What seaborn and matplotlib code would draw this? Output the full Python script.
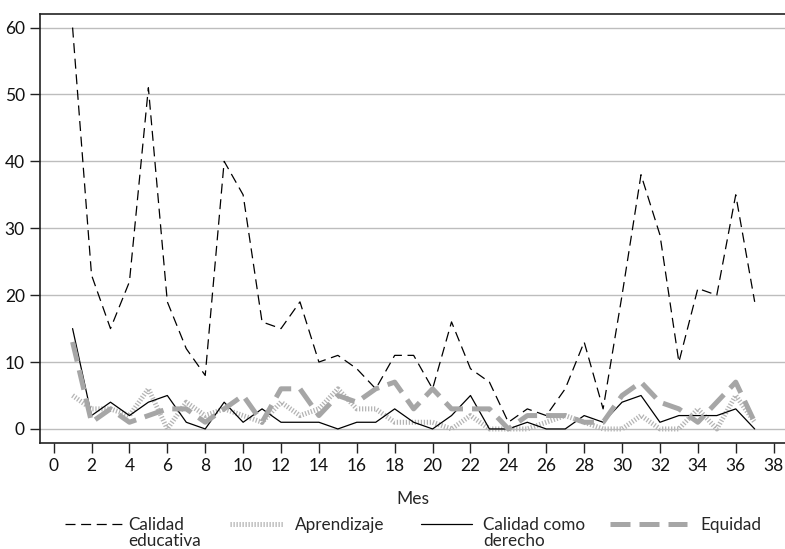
import matplotlib
matplotlib.use("Agg")
import matplotlib.pyplot as plt
import seaborn as sns
import pandas as pd
import numpy as np

meses = list(range(1, 38))
calidad_educativa = [60, 23, 15, 22, 51, 19, 12, 8, 40, 35, 16, 15, 19, 10, 11, 9, 6, 11, 11, 6,
                     16, 9, 7, 1, 3, 2, 6, 13, 3, 20, 38, 29, 10, 21, 20, 35, 19]
aprendizaje = [5, 3, 3, 2, 6, 0, 4, 2, 3, 2, 1, 4, 2, 3, 6, 3, 3, 1, 1, 1,
               0, 2, 0, 0, 0, 1, 2, 1, 0, 0, 2, 0, 0, 3, 0, 5, 1]
calidad_derecho = [15, 2, 4, 2, 4, 5, 1, 0, 4, 1, 3, 1, 1, 1, 0, 1, 1, 3, 1, 0,
                   2, 5, 0, 0, 1, 0, 0, 2, 1, 4, 5, 1, 2, 2, 2, 3, 0]
equidad = [13, 1, 3, 1, 2, 3, 3, 1, 3, 5, 1, 6, 6, 2, 5, 4, 6, 7, 3, 6,
           3, 3, 3, 0, 2, 2, 2, 1, 1, 5, 7, 4, 3, 1, 4, 7, 1]

labels = ["Calidad\neducativa", "Aprendizaje", "Calidad como\nderecho", "Equidad"]
x_ticks = list(range(0, 39, 2))
y_ticks = list(range(0, 61, 10))

sns.set_theme(style="white")
plt.rcParams['font.family'] = ['Lato', 'DejaVu Sans']

fig = plt.figure(figsize=(7.85, 5.49), dpi=100)
ax = fig.add_axes([40/785, 106/549, 1 - 40/785, (443 - 13.5)/549])

styles = [
    dict(color="black", linewidth=0.9, linestyle=(0, (8, 4.5))),
    dict(color="#b4b4b4", linewidth=3.6, linestyle=(0, (0.25, 0.35))),
    dict(color="black", linewidth=0.9, linestyle="-"),
    dict(color="#a6a6a6", linewidth=3.6, linestyle=(0, (4, 1.8))),
]
series = [calidad_educativa, aprendizaje, calidad_derecho, equidad]

for lab, vals, st in zip(labels, series, styles):
    df = pd.DataFrame({"Mes": meses, "v": vals})
    sns.lineplot(data=df, x="Mes", y="v", ax=ax, label=lab, **st)

ax.set_xlim(-0.72, 38.6)
ax.set_ylim(-2.1, 62.1)
ax.set_xticks(x_ticks)
ax.set_yticks(y_ticks)
ax.yaxis.grid(True, color="#bdbdbd", linewidth=1)
ax.xaxis.grid(False)
ax.set_axisbelow(True)
for s in ["left", "bottom", "top"]:
    ax.spines[s].set_color("#222222")
    ax.spines[s].set_linewidth(1.2)
ax.spines["right"].set_visible(False)
ax.tick_params(axis="both", direction="out", length=7, width=1, color="#222222",
               labelsize=12.5, labelcolor="#111111", bottom=True, left=True, pad=4)
ax.set_xlabel("Mes", fontsize=12.5, labelpad=12)
ax.set_ylabel("")

h, l = ax.get_legend_handles_labels()
ax.get_legend().remove()

fs = 12.3
# (x of handle start in px, handle length px, gap px)
leg_pos = [(65, 57, 6), (230, 53, 12), (421, 51, 11), (610, 77, 13)]
fs_px = fs * 100 / 72
for hd, lb, (xp, hl, gap) in zip(h, l, leg_pos):
    lg = fig.legend([hd], [lb], loc="upper left",
                    bbox_to_anchor=(xp / 785, 1 - 517 / 549),
                    frameon=False, fontsize=fs, handlelength=hl / fs_px,
                    handletextpad=gap / fs_px, borderpad=0, borderaxespad=0,
                    labelspacing=0)
    for t in lg.get_texts():
        t.set_linespacing(1.0)
    if "\n" in lb:
        for ln in lg.legend_handles:
            ln.set_ydata(np.asarray(ln.get_ydata()) + 0.55 * fs)

fig.savefig("out.png", dpi=100)
